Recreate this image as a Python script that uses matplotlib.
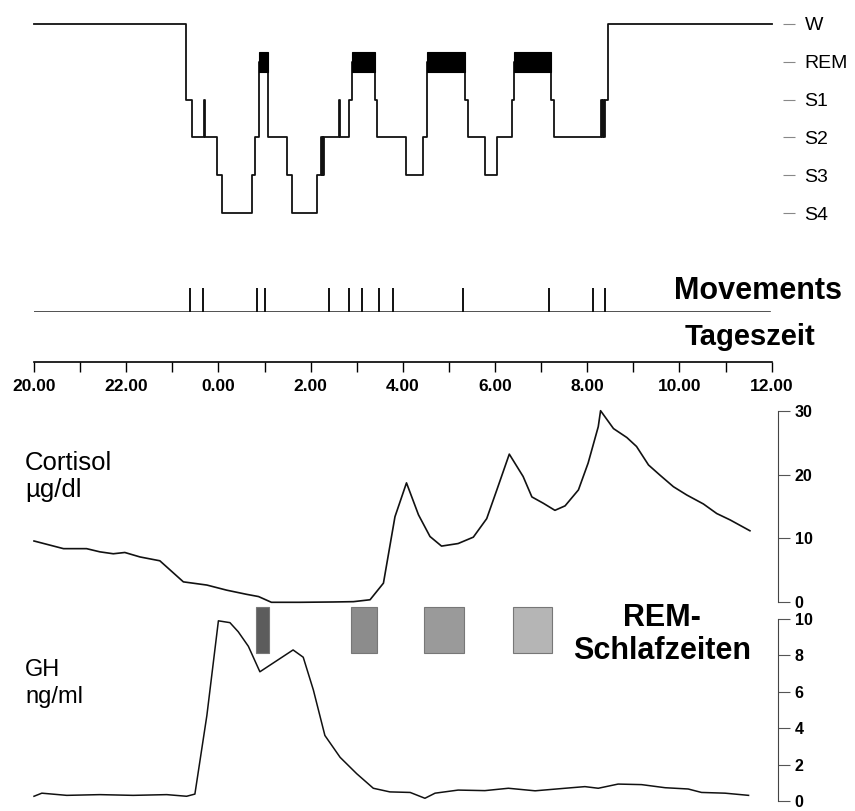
import matplotlib
matplotlib.use('Agg')
import matplotlib.pyplot as plt
from matplotlib.patches import Rectangle

plt.rcParams['font.family'] = ['Liberation Sans', 'DejaVu Sans']

# stage codes: 0=W, 1=REM, 2=S1, 3=S2, 4=S3, 5=S4
stage_labels = ['W', 'REM', 'S1', 'S2', 'S3', 'S4']

# hours after 20.00
hyp_t = [0, 3.30, 3.43, 3.69, 3.71, 3.97, 4.08, 4.73, 4.79, 4.88, 5.08, 5.49,
         5.60, 6.13, 6.22, 6.24, 6.26, 6.27, 6.29, 6.62, 6.64, 6.84, 6.89, 7.40,
         7.44, 8.07, 8.43, 8.52, 9.35, 9.42, 9.78, 10.05, 10.36, 10.42, 11.21,
         11.29, 12.31, 12.33, 12.35, 12.36, 12.38, 12.45, 16.0]
hyp_stage = [0, 2, 3, 2, 3, 4, 5, 4, 3, 1, 3, 4,
             5, 4, 3, 4, 3, 4, 3, 2, 3, 2, 1, 2,
             3, 4, 3, 1, 2, 3, 4, 3, 2, 1, 2,
             3, 2, 3, 2, 3, 2, 0, 0]

mov_t = [3.38, 3.66, 4.83, 5.01, 6.40, 6.84, 7.11, 7.48, 7.78, 9.31, 11.17, 12.13, 12.39]

time_ticks = list(range(0, 17, 2))
time_labels = ['20.00', '22.00', '0.00', '2.00', '4.00', '6.00', '8.00', '10.00', '12.00']

cort_t = [0, 0.64, 1.14, 1.43, 1.72, 1.97, 2.30, 2.73, 3.24, 3.75, 4.18, 4.61, 4.87,
          5.15, 5.77, 6.49, 6.93, 7.29, 7.58, 7.83, 8.08, 8.34, 8.59, 8.84, 9.20,
          9.53, 9.82, 10.04, 10.31, 10.61, 10.80, 11.05, 11.30, 11.52, 11.81, 12.02,
          12.24, 12.29, 12.57, 12.86, 13.07, 13.33, 13.58, 13.87, 14.16, 14.52,
          14.81, 15.10, 15.53]
cort_v = [9.6, 8.4, 8.4, 7.9, 7.6, 7.8, 7.1, 6.5, 3.2, 2.7, 1.9, 1.25, 0.9,
          0.0, 0.0, 0.05, 0.1, 0.4, 3.0, 13.4, 18.7, 13.7, 10.3, 8.8, 9.2,
          10.2, 13.1, 17.6, 23.2, 19.7, 16.5, 15.5, 14.4, 15.1, 17.6, 21.8,
          27.5, 30.0, 27.2, 25.8, 24.4, 21.5, 19.9, 18.1, 16.8, 15.4,
          13.9, 12.9, 11.2]

gh_t = [0, 0.17, 0.71, 1.43, 2.15, 2.88, 3.31, 3.49, 3.75, 4.00, 4.25, 4.43, 4.65,
        4.90, 5.26, 5.62, 5.84, 6.06, 6.31, 6.64, 7.00, 7.36, 7.72, 8.16, 8.48,
        8.70, 9.20, 9.78, 10.29, 10.87, 11.52, 11.95, 12.24, 12.67, 13.18, 13.69,
        14.19, 14.48, 14.99, 15.50]
gh_v = [0.26, 0.43, 0.31, 0.35, 0.31, 0.35, 0.26, 0.38, 4.7, 9.9, 9.8, 9.3, 8.5,
        7.1, 7.7, 8.3, 7.9, 6.1, 3.6, 2.4, 1.5, 0.7, 0.5, 0.47, 0.15,
        0.43, 0.6, 0.57, 0.7, 0.56, 0.7, 0.79, 0.7, 0.93, 0.9, 0.73,
        0.66, 0.47, 0.43, 0.31]

rem_start = [4.82, 6.87, 8.46, 10.38]
rem_end = [5.10, 7.43, 9.33, 11.23]
rem_colors = ['#5c5c5c', '#8c8c8c', '#9a9a9a', '#b5b5b5']

W, H = 855, 811
fig = plt.figure(figsize=(W / 100, H / 100), dpi=100)


def box(x0, y0, x1, y1):
    return [x0 / W, 1 - y1 / H, (x1 - x0) / W, (y1 - y0) / H]


def ftext(x, y, s, **kw):
    fig.text(x / W, 1 - y / H, s, **kw)


X0, X1 = 34, 777.5
XLIM = (0, (X1 - X0) / 46.1)


def bare(ax):
    ax.set_xlim(*XLIM)
    for sp in ax.spines.values():
        sp.set_visible(False)
    ax.set_xticks([])
    ax.set_yticks([])
    ax.patch.set_alpha(0)


# hypnogram
ax = fig.add_axes(box(X0, 24, X1, 213))
bare(ax)
ax.set_ylim(5, 0)
ax.plot(hyp_t, hyp_stage, drawstyle='steps-post', color='#111', lw=1.3, clip_on=False)
for i in range(len(hyp_stage) - 1):
    if hyp_stage[i] == 1:
        ax.add_patch(Rectangle((hyp_t[i], 0.75), hyp_t[i + 1] - hyp_t[i], 0.53,
                               facecolor='black', edgecolor='black', lw=0.8, zorder=3))
ax.yaxis.tick_right()
ax.spines['right'].set_position(('outward', 4))
ax.set_yticks(range(6))
ax.set_yticklabels(stage_labels, fontsize=14)
ax.tick_params(axis='y', length=8.5, width=0.8, color='#888', pad=7)

# movements
ax = fig.add_axes(box(X0, 288, X1, 312))
bare(ax)
ax.set_ylim(0, 1)
ax.plot([0, 15.97], [0, 0], color='#333', lw=1.2)
ax.vlines(mov_t, 0, 1, color='#111', lw=1.4)
ftext(842, 299, 'Movements', fontsize=22, fontweight='bold', ha='right', va='baseline')

# time axis
ax = fig.add_axes(box(X0, 340, X1, 362))
bare(ax)
ax.set_ylim(0, 1)
ax.spines['bottom'].set_visible(True)
ax.spines['bottom'].set_bounds(0, 16)
ax.spines['bottom'].set_linewidth(1.2)
ax.set_xticks(range(17), minor=True)
ax.set_xticks(time_ticks)
ax.set_xticklabels(time_labels, fontsize=12.5, fontweight='bold')
ax.tick_params(axis='x', which='both', direction='out', length=7, width=1, pad=5)
ftext(815, 345, 'Tageszeit', fontsize=21, fontweight='bold', ha='right', va='baseline')

# cortisol
ax = fig.add_axes(box(X0, 410.7, X1, 602.3))
bare(ax)
ax.set_ylim(0, 30)
ax.plot(cort_t, cort_v, color='#111', lw=1.2, clip_on=False)
ax.spines['right'].set_visible(True)
ax.spines['right'].set_bounds(0, 30)
ax.spines['right'].set_color('#444')
ax.yaxis.tick_right()
ax.set_yticks([0, 10, 20, 30])
ax.set_yticklabels(['0', '10', '20', '30'], fontsize=11.5, fontweight='bold')
ax.tick_params(axis='y', direction='out', length=8.5, width=0.8, color='#555', pad=4)
ftext(25, 470, 'Cortisol', fontsize=18.5, va='baseline')
ftext(25, 497, 'µg/dl', fontsize=18.5, va='baseline')

# GH
ax = fig.add_axes(box(X0, 619, X1, 801))
bare(ax)
ax.set_ylim(0, 10)
ax.plot(gh_t, gh_v, color='#111', lw=1.1, clip_on=False)
for s, e, c in zip(rem_start, rem_end, rem_colors):
    ax.bar(s, 10.65 - 8.15, width=e - s, bottom=8.15, align='edge', color=c,
           edgecolor='#777', lw=0.8, clip_on=False)
ax.spines['right'].set_visible(True)
ax.spines['right'].set_bounds(0, 10)
ax.spines['right'].set_color('#444')
ax.yaxis.tick_right()
ax.set_yticks(range(0, 11, 2))
ax.set_yticklabels([str(v) for v in range(0, 11, 2)], fontsize=11.5, fontweight='bold')
ax.tick_params(axis='y', direction='out', length=8.5, width=0.8, color='#555', pad=4)
ftext(25, 676, 'GH', fontsize=17, va='baseline')
ftext(25, 703, 'ng/ml', fontsize=17, va='baseline')
ftext(662, 626, 'REM-', fontsize=22, fontweight='bold', ha='center', va='baseline')
ftext(662, 659, 'Schlafzeiten', fontsize=22, fontweight='bold', ha='center', va='baseline')

fig.savefig('out.png', dpi=100)
